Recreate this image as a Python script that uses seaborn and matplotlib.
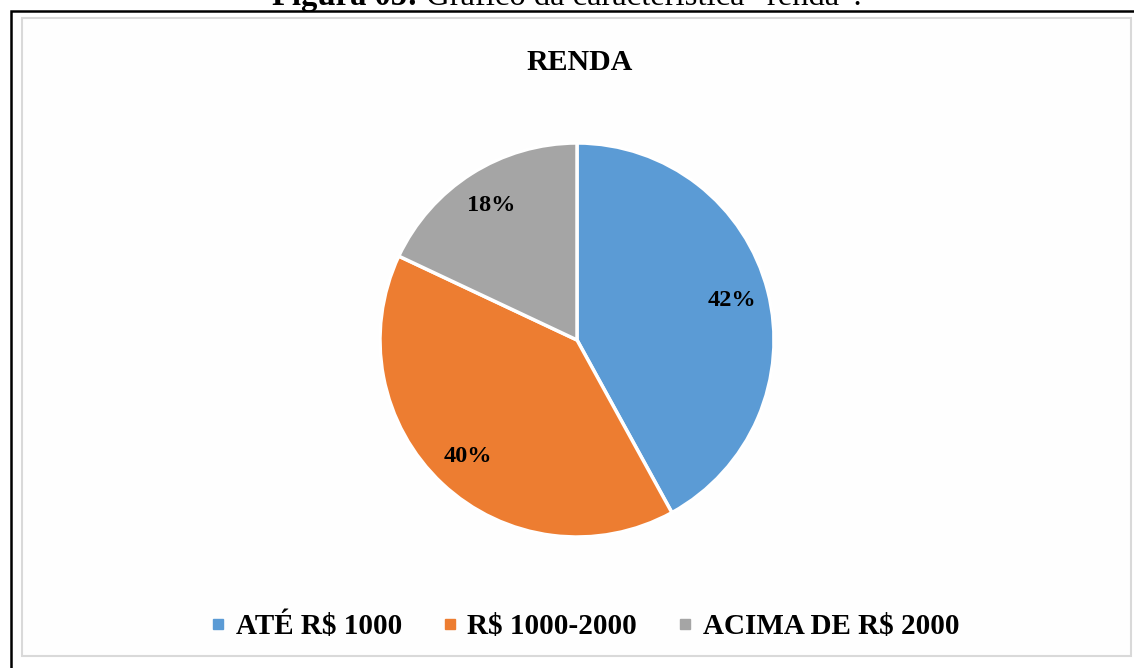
import matplotlib
matplotlib.use("Agg")
import matplotlib.pyplot as plt
from matplotlib.lines import Line2D
from matplotlib.patches import Rectangle
import seaborn as sns

categories = ["ATÉ R$ 1000", "R$ 1000-2000", "ACIMA DE R$ 2000"]
values = [42, 40, 18]
title = "RENDA"
caption_bold = "Figura 05:"
caption_rest = " Gráfico da característica \u201crenda\u201d."

sns.set_theme(style="white")
plt.rcParams['font.family'] = ['Liberation Serif', 'DejaVu Serif']
plt.rcParams['text.color'] = 'black'
colors = ["#5B9BD5", "#ED7D31", "#A5A5A5"]

W, H = 1134, 668
fig = plt.figure(figsize=(W / 100, H / 100), dpi=100)
fig.patch.set_facecolor("white")

# outer black frame and inner gray frame
fig.add_artist(Rectangle((11 / W, -0.1), 1.2, 1 - 11.5 / H + 0.1, transform=fig.transFigure,
                         fill=False, edgecolor="black", linewidth=1.8, zorder=-2))
fig.add_artist(Rectangle((22 / W, 1 - 656 / H), (1131 - 22) / W, (656 - 18) / H,
                         transform=fig.transFigure, facecolor="#FEFEFE",
                         edgecolor="#D9D9D9", linewidth=1.5, zorder=-1))

# caption (cut off at top, as in the reference)
t1 = fig.text(0, 1 - 5 / H, caption_bold, fontsize=23.5, fontweight="bold", va="baseline", ha="left")
t2 = fig.text(0, 1 - 5 / H, caption_rest, fontsize=23.5, va="baseline", ha="left")
fig.canvas.draw()
r = fig.canvas.get_renderer()
w1 = t1.get_window_extent(r).width
w2 = t2.get_window_extent(r).width
x0 = 567 - (w1 + w2) / 2
t1.set_x(x0 / W)
t2.set_x((x0 + w1) / W)

# pie
cx, cy, rad = 577, 340, 197
ax = fig.add_axes([(cx - rad) / W, (H - cy - rad) / H, 2 * rad / W, 2 * rad / H])
wedges, texts, autotexts = ax.pie(values, colors=colors, startangle=90, counterclock=False,
                                  autopct="%1.0f%%", pctdistance=0.81,
                                  wedgeprops=dict(edgecolor="white", linewidth=2.5),
                                  textprops=dict(fontsize=17.5, fontweight="bold", color="black"))
ax.set_xlim(-1, 1)
ax.set_ylim(-1, 1)
ax.set_aspect("equal")
ax.axis("off")

fig.text(580 / W, 1 - 62 / H, title, fontsize=21.5, fontweight="bold", ha="center", va="center")

handles = [Line2D([], [], marker="s", linestyle="none", markersize=7, color=c) for c in colors]
fig.legend(handles, categories, loc="center", bbox_to_anchor=(585 / W, 1 - 626 / H), ncol=3,
           frameon=False, prop=dict(size=21, weight="bold"), handlelength=0.5,
           handletextpad=0.35, columnspacing=1.4)

fig.savefig("out.png", dpi=100)
